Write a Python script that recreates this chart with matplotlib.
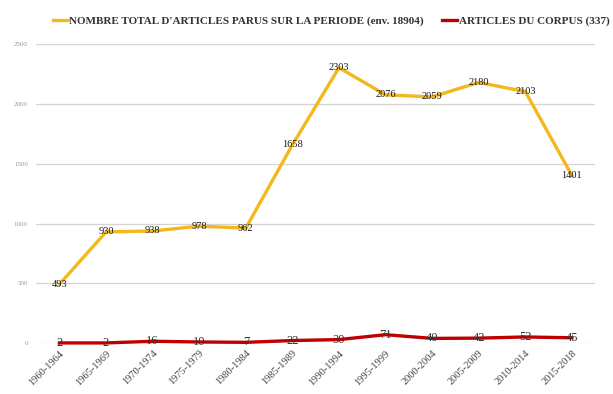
import matplotlib.pyplot as plt

periodes = ["1960-1964", "1965-1969", "1970-1974", "1975-1979", "1980-1984",
            "1985-1989", "1990-1994", "1995-1999", "2000-2004", "2005-2009",
            "2010-2014", "2015-2018"]
total_articles = [493, 930, 938, 978, 962, 1658, 2303, 2076, 2059, 2180, 2103, 1401]
corpus_articles = [2, 2, 16, 10, 7, 22, 30, 71, 40, 42, 52, 45]
y_ticks = [0, 500, 1000, 1500, 2000, 2500]

plt.rcParams["font.family"] = ["Liberation Serif", "DejaVu Serif"]

fig = plt.figure(figsize=(6.13, 3.94), dpi=100)
ax = fig.add_axes([0.059, 0.129, 0.912, 0.759])

x = list(range(len(periodes)))
jaune = "#F2B81C"
rouge = "#C00000"

ax.plot(x, total_articles, color=jaune, lw=2.4, solid_joinstyle="round",
        label="NOMBRE TOTAL D'ARTICLES PARUS SUR LA PERIODE (env. 18904)",
        clip_on=False, zorder=3)
ax.plot(x, corpus_articles, color=rouge, lw=2.4, solid_joinstyle="round",
        label="ARTICLES DU CORPUS (337)", clip_on=False, zorder=3)

# valeurs sur les points
for xi, v in zip(x, total_articles):
    ax.text(xi, v, str(v), ha="center", va="center", fontsize=7.5,
            color="#1a1a1a", zorder=4)
for xi, v in zip(x, corpus_articles):
    ax.text(xi, v, str(v), ha="center", va="center", fontsize=9,
            color="#333333", zorder=4)

ax.set_xlim(-0.5, len(periodes) - 0.5)
ax.set_ylim(0, 2500)
ax.set_yticks(y_ticks)
ax.set_yticklabels([str(t) for t in y_ticks], fontsize=5, color="#999999")
ax.set_xticks(x)
ax.set_xticklabels(periodes, rotation=45, ha="right", rotation_mode="anchor",
                   fontsize=7.5, color="#444444")
ax.tick_params(length=0, pad=4)
ax.tick_params(axis="y", pad=6)
ax.grid(axis="y", color="#d4d4d4", lw=0.9)
ax.set_axisbelow(True)
for s in ax.spines.values():
    s.set_visible(False)

leg = fig.legend(loc="upper center", bbox_to_anchor=(0.54, 0.985), ncol=2,
                 frameon=False, handlelength=1.4, handletextpad=0.1,
                 columnspacing=1.6, prop={"weight": "bold", "size": 8})
for t in leg.get_texts():
    t.set_color("#333333")

fig.savefig("out.png", dpi=100)
